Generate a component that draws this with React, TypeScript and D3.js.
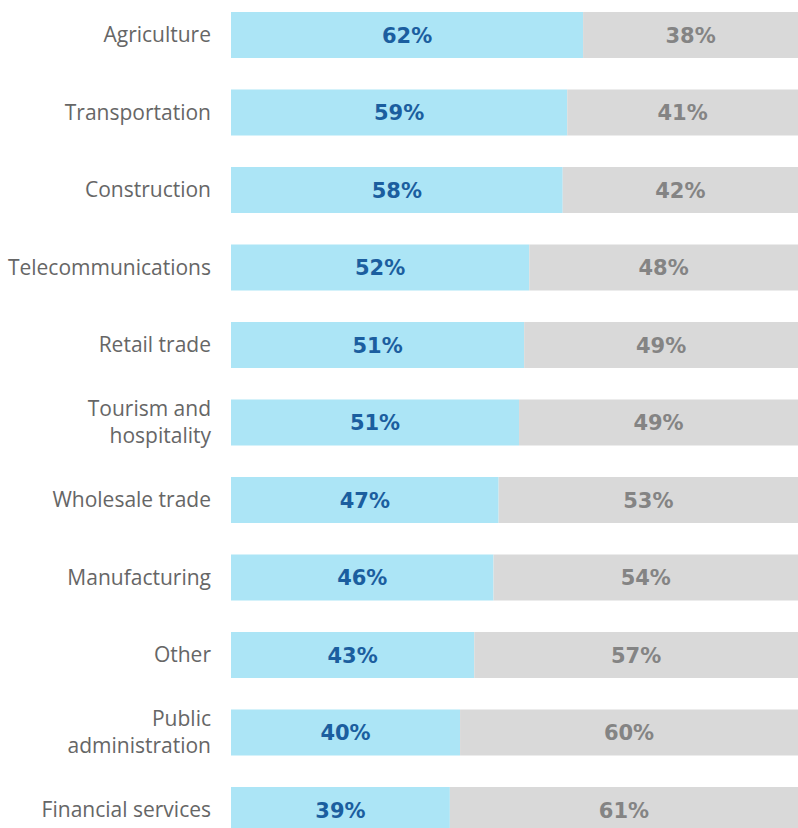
import React from "react";
import * as d3 from "d3";

const categories: string[][] = [
  ["Agriculture"],
  ["Transportation"],
  ["Construction"],
  ["Telecommunications"],
  ["Retail trade"],
  ["Tourism and", "hospitality"],
  ["Wholesale trade"],
  ["Manufacturing"],
  ["Other"],
  ["Public", "administration"],
  ["Financial services"],
];
const blueValues = [62.1, 59.3, 58.5, 52.6, 51.7, 50.8, 47.2, 46.3, 42.9, 40.4, 38.6];
const blueLabels = ["62%", "59%", "58%", "52%", "51%", "51%", "47%", "46%", "43%", "40%", "39%"];
const grayLabels = ["38%", "41%", "42%", "48%", "49%", "49%", "53%", "54%", "57%", "60%", "61%"];

const W = 798;
const H = 828;

export default function App() {
  const keys = categories.map((c) => c.join(" "));
  const x = d3.scaleLinear().domain([0, 100]).range([231, 798]);
  const y = d3
    .scaleBand<string>()
    .domain(keys)
    .range([12, 833])
    .paddingInner(31.5 / 77.5)
    .paddingOuter(0);
  const bw = y.bandwidth();

  return (
    <div style={{ position: "absolute", left: 0, top: 0 }}>
      <svg width={W} height={H} style={{ display: "block" }}>
        <rect x={0} y={0} width={W} height={H} fill="#ffffff" />
        {keys.map((k, i) => {
          const y0 = y(k) as number;
          const cy = y0 + bw / 2;
          const xb = x(blueValues[i]);
          const lines = categories[i];
          return (
            <g key={k}>
              <rect x={x(0)} y={y0} width={xb - x(0)} height={bw} fill="#ACE5F6" />
              <rect x={xb} y={y0} width={x(100) - xb} height={bw} fill="#D9D9D9" />
              <text
                x={(x(0) + xb) / 2}
                y={cy}
                dy="0.36em"
                textAnchor="middle"
                fontFamily="'DejaVu Sans', sans-serif"
                fontWeight={700}
                fontSize={21}
                fill="#1B5E9F"
              >
                {blueLabels[i]}
              </text>
              <text
                x={(xb + x(100)) / 2}
                y={cy}
                dy="0.36em"
                textAnchor="middle"
                fontFamily="'DejaVu Sans', sans-serif"
                fontWeight={700}
                fontSize={21}
                fill="#848484"
              >
                {grayLabels[i]}
              </text>
              <text
                x={211}
                textAnchor="end"
                fontFamily="'Open Sans', Lato, sans-serif"
                fontSize={21}
                fill="#666666"
              >
                {lines.map((ln, j) => (
                  <tspan key={j} x={211} y={cy + (j - (lines.length - 1) / 2) * 27} dy="0.35em">
                    {ln}
                  </tspan>
                ))}
              </text>
            </g>
          );
        })}
      </svg>
    </div>
  );
}
